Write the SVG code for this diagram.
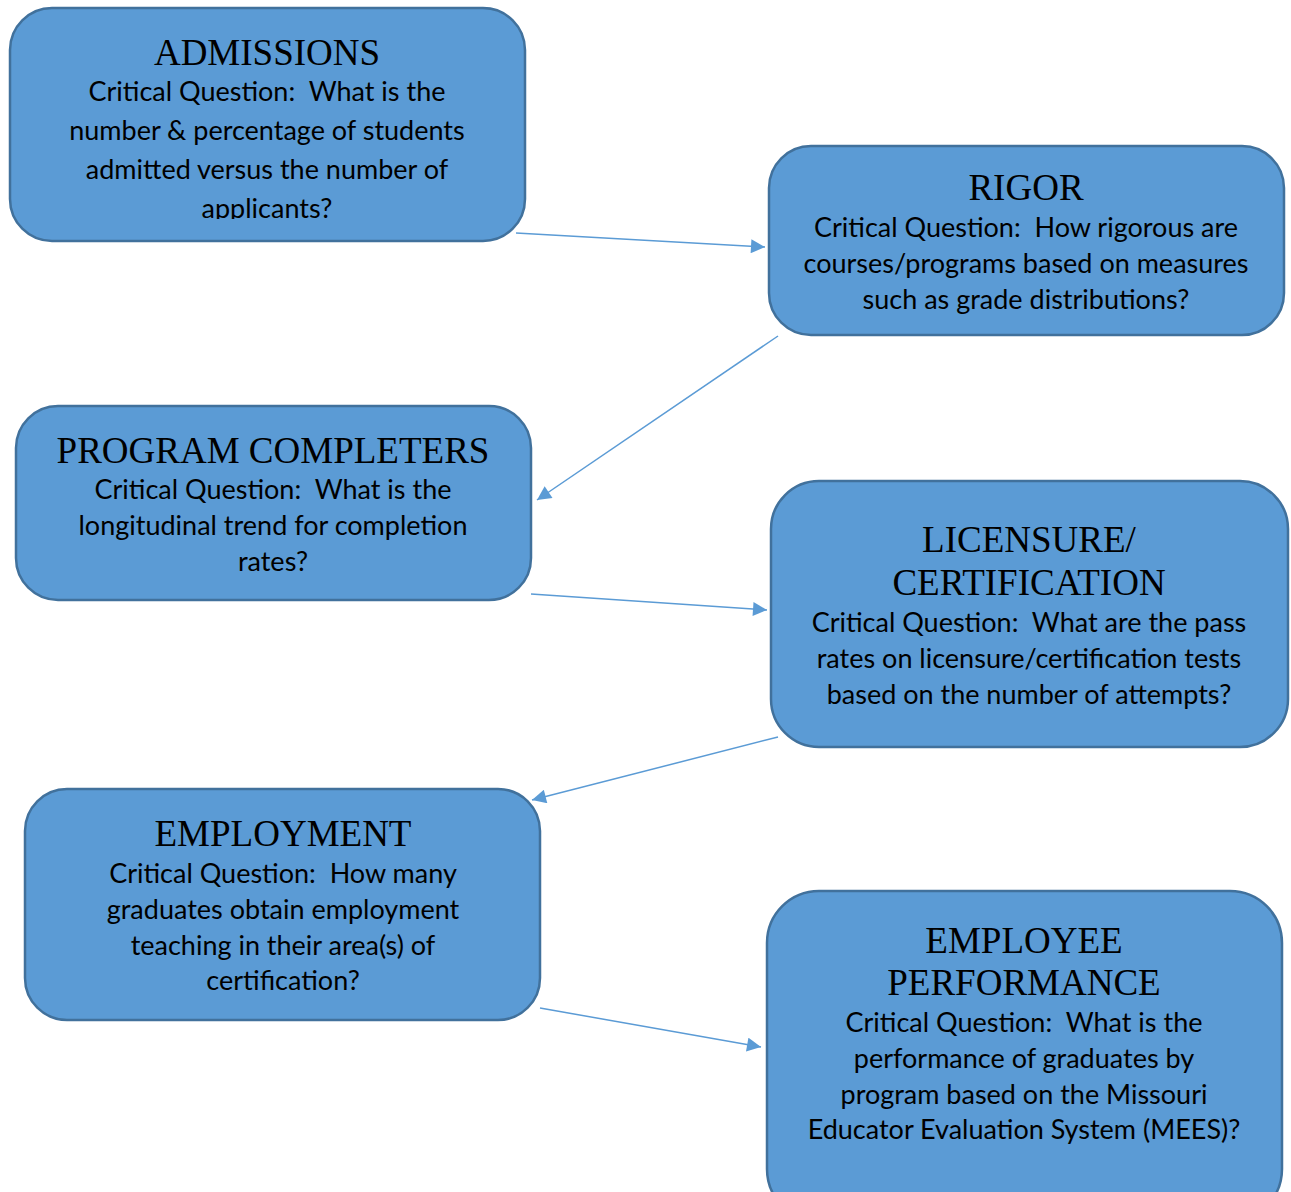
<svg xmlns="http://www.w3.org/2000/svg" width="1291" height="1192" viewBox="0 0 1291 1192">
  <style>
    .box { fill: #5B9BD5; stroke: #41719C; stroke-width: 2.5; }
    .title { font-family: "Liberation Serif", "Times New Roman", serif; font-size: 37px; fill: #000; text-anchor: middle; }
    .body { font-family: Lato, "Open Sans", "Liberation Sans", sans-serif; font-size: 27px; fill: #000; text-anchor: middle; white-space: pre; }
    .link { stroke: #5B9BD5; stroke-width: 1.5; fill: none; marker-end: url(#tri); }
  </style>
  <defs>
    <marker id="tri" viewBox="0 0 10 10" refX="10" refY="5" markerWidth="17" markerHeight="14" markerUnits="userSpaceOnUse" orient="auto">
      <path d="M0,0 L10,5 L0,10 Z" fill="#5B9BD5"/>
    </marker>
    <clipPath id="clipAdm"><rect x="10" y="8" width="516" height="211"/></clipPath>
  </defs>

  <g id="admissions">
    <rect class="box" x="10" y="8" width="515" height="233" rx="42"/>
    <g clip-path="url(#clipAdm)">
      <text class="title" x="267" y="65">ADMISSIONS</text>
      <text class="body" x="267" y="101">Critical Question:  What is the</text>
      <text class="body" x="267" y="140">number &amp; percentage of students</text>
      <text class="body" x="267" y="179">admitted versus the number of</text>
      <text class="body" x="267" y="218">applicants?</text>
    </g>
  </g>

  <g id="rigor">
    <rect class="box" x="769" y="146" width="515" height="189" rx="42"/>
    <text class="title" x="1026" y="200">RIGOR</text>
    <text class="body" x="1026" y="237">Critical Question:  How rigorous are</text>
    <text class="body" x="1026" y="273">courses/programs based on measures</text>
    <text class="body" x="1026" y="309">such as grade distributions?</text>
  </g>

  <g id="program-completers">
    <rect class="box" x="16" y="406" width="515" height="194" rx="42"/>
    <text class="title" x="273" y="463">PROGRAM COMPLETERS</text>
    <text class="body" x="273" y="499">Critical Question:  What is the</text>
    <text class="body" x="273" y="535">longitudinal trend for completion</text>
    <text class="body" x="273" y="571">rates?</text>
  </g>

  <g id="licensure">
    <rect class="box" x="771" y="481" width="517" height="266" rx="48"/>
    <text class="title" x="1029" y="552">LICENSURE/</text>
    <text class="title" x="1029" y="595">CERTIFICATION</text>
    <text class="body" x="1029" y="632">Critical Question:  What are the pass</text>
    <text class="body" x="1029" y="668">rates on licensure/certification tests</text>
    <text class="body" x="1029" y="704">based on the number of attempts?</text>
  </g>

  <g id="employment">
    <rect class="box" x="25" y="789" width="515" height="231" rx="42"/>
    <text class="title" x="283" y="846">EMPLOYMENT</text>
    <text class="body" x="283" y="883">Critical Question:  How many</text>
    <text class="body" x="283" y="919">graduates obtain employment</text>
    <text class="body" x="283" y="955">teaching in their area(s) of</text>
    <text class="body" x="283" y="990">certification?</text>
  </g>

  <g id="employee-performance">
    <rect class="box" x="767" y="891" width="515" height="330" rx="52"/>
    <text class="title" x="1024" y="953">EMPLOYEE</text>
    <text class="title" x="1024" y="995">PERFORMANCE</text>
    <text class="body" x="1024" y="1032">Critical Question:  What is the</text>
    <text class="body" x="1024" y="1068">performance of graduates by</text>
    <text class="body" x="1024" y="1104">program based on the Missouri</text>
    <text class="body" x="1024" y="1139">Educator Evaluation System (MEES)?</text>
  </g>

  <g id="connectors">
    <line class="link" x1="516" y1="233" x2="765" y2="247"/>
    <line class="link" x1="778" y1="336" x2="537" y2="500"/>
    <line class="link" x1="531" y1="594" x2="767" y2="610"/>
    <line class="link" x1="778" y1="737" x2="532" y2="800"/>
    <line class="link" x1="540" y1="1008" x2="761" y2="1047"/>
  </g>
</svg>
